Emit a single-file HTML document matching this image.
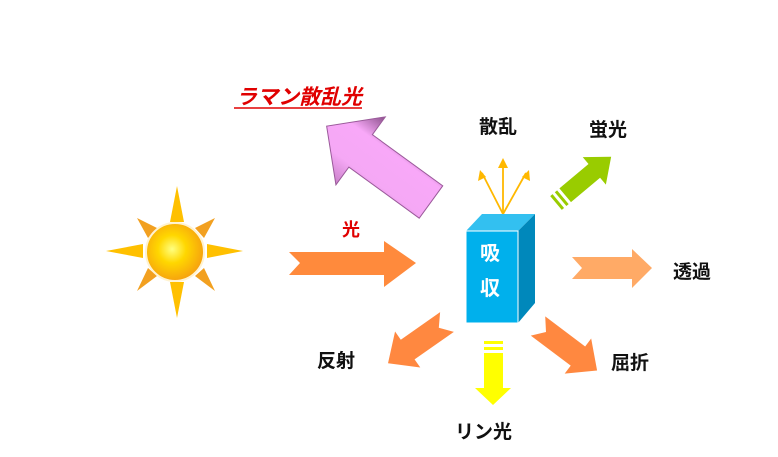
<!DOCTYPE html>
<html><head><meta charset="utf-8"><style>
html,body{margin:0;padding:0;background:#fff;}
svg{display:block;}
text{font-family:"Liberation Sans","Noto Sans CJK JP",sans-serif;font-weight:bold;}
</style></head><body>
<svg width="778" height="457" viewBox="0 0 778 457" xmlns="http://www.w3.org/2000/svg">
<defs>
<radialGradient id="sun" cx="0.45" cy="0.45" r="0.6">
<stop offset="0" stop-color="#ffff80"/><stop offset="0.4" stop-color="#ffd700"/><stop offset="1" stop-color="#f59a10"/>
</radialGradient>
<linearGradient id="pink" x1="0" y1="0" x2="0" y2="1">
<stop offset="0" stop-color="#c880c8"/><stop offset="0.3" stop-color="#f5a8f5"/><stop offset="0.7" stop-color="#f8a8f8"/><stop offset="1" stop-color="#8a508a"/>
</linearGradient>
</defs>
<!-- sun -->
<g fill="#ffc000">
<polygon points="177,186 170,222 184,222"/>
<polygon points="177,318 170,282 184,282"/>
<polygon points="106,251 143,244 143,258"/>
<polygon points="243,251 207,244 207,258"/>
</g>
<g fill="#f2a020">
<polygon points="137,218 157,228 148,238"/>
<polygon points="215,218 195,228 204,238"/>
<polygon points="137,291 157,276 148,268"/>
<polygon points="215,291 195,276 204,268"/>
</g>
<circle cx="175" cy="252" r="29" fill="url(#sun)" stroke="#fff3d0" stroke-width="2"/>
<!-- light arrow -->
<polygon points="289,252 384,252 384,241 416,263 384,287 384,275 289,275 300,263" fill="#ff8a3c"/>
<text x="342" y="236" font-size="18" fill="#e00000">光</text>
<!-- raman -->
<text x="236" y="104" font-size="21" fill="#e00000" font-style="italic" textLength="126" lengthAdjust="spacingAndGlyphs">ラマン散乱光</text>
<line x1="234" y1="108" x2="362" y2="108" stroke="#e00000" stroke-width="1.5"/>
<g transform="translate(431,202) rotate(216)">
<polygon points="0,-20 87,-20 87,-42 129,0 87,42 87,20 0,20" fill="url(#pink)" stroke="#9a5a9a" stroke-width="1"/>
</g>
<!-- scatter -->
<g stroke="#ffb800" stroke-width="1.8" fill="none">
<line x1="503" y1="214" x2="503" y2="162"/>
<line x1="503" y1="214" x2="482" y2="173"/>
<line x1="503" y1="214" x2="526" y2="173"/>
</g>
<g fill="#ffb800">
<polygon points="503,158 498,168 508,168"/>
<polygon points="480,170 478,181 486,177"/>
<polygon points="529,170 522,177 530,181"/>
</g>
<text x="479" y="133" font-size="19" fill="#111">散乱</text>
<!-- box -->
<polygon points="466,231 482,214 535,214 518,231" fill="#33c0f0"/>
<polygon points="518,231 535,214 535,303 518,323" fill="#0088bb"/>
<rect x="466" y="231" width="52" height="92" fill="#00b0ec" stroke="#fff" stroke-width="1"/>
<text x="480" y="260" font-size="20" fill="#fff">吸</text>
<text x="480" y="295" font-size="20" fill="#fff">収</text>
<!-- fluorescence -->
<g transform="translate(556,203) rotate(-40)">
<polygon points="12,-9 50,-9 50,-18 72,0 50,18 50,9 12,9" fill="#99cc00"/>
<rect x="0" y="-9" width="3" height="18" fill="#99cc00"/>
<rect x="6" y="-9" width="3" height="18" fill="#99cc00"/>
</g>
<text x="589" y="136" font-size="19" fill="#111">蛍光</text>
<!-- transmission -->
<polygon points="572,257 632,257 632,249 652,268 632,288 632,279 572,279 582,268" fill="#ffaa66"/>
<text x="673" y="278" font-size="19" fill="#111">透過</text>
<!-- reflect -->
<g transform="translate(447,322) rotate(145)">
<polygon points="0,-12 48,-12 48,-22 72,0 48,22 48,12 0,12 10,0" fill="#ff8840"/>
</g>
<text x="317" y="367" font-size="19" fill="#111">反射</text>
<!-- refract -->
<g transform="translate(538,326) rotate(37)">
<polygon points="0,-12 50,-12 50,-22 74,0 50,22 50,12 0,12 10,0" fill="#ff8840"/>
</g>
<text x="611" y="369" font-size="19" fill="#111">屈折</text>
<!-- phosphorescence -->
<rect x="484" y="341" width="19" height="3" fill="#ffff00"/>
<rect x="484" y="347" width="19" height="3" fill="#ffff00"/>
<polygon points="484,353 503,353 503,388 511,388 493,405 475,388 484,388" fill="#ffff00"/>
<text x="455" y="438" font-size="19" fill="#111">リン光</text>
</svg>
</body></html>
